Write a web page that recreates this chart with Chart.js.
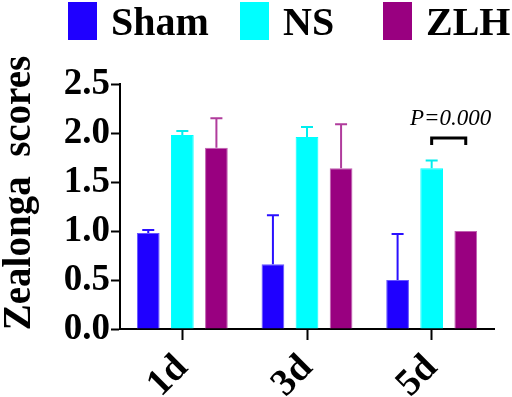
<!DOCTYPE html>
<html lang="en">
<head>
    <meta charset="UTF-8">
    <title>Zealonga scores</title>
    <script src="https://cdn.jsdelivr.net/npm/chart.js"></script>
    <style>
        body { margin: 0; background: #fff; }
        #wrap { width: 512px; height: 397px; }
    </style>
</head>
<body>
    <div id="wrap"><canvas id="myChart"></canvas></div>
    <script>
        // values
        const categories = ['1d', '3d', '5d'];
        const groupNames = ['Sham', 'NS', 'ZLH'];
        const shamMean = [0.98, 0.66, 0.50];
        const shamErr = [0.03, 0.50, 0.47];
        const nsMean = [1.98, 1.96, 1.64];
        const nsErr = [0.04, 0.10, 0.08];
        const zlhMean = [1.85, 1.64, 1.00];
        const zlhErr = [0.30, 0.45, 0.00];
        const yTicks = [0, 0.5, 1.0, 1.5, 2.0, 2.5];
        const yTitle = 'Zealonga  scores';
        const sigText = 'P=0.000';
        const sigLevel = 1.95;

        const serif = 'Liberation Serif';
        Chart.defaults.font.family = serif;

        // upper error bars only
        const errorBars = {
            id: 'errorBars',
            afterDatasetsDraw(chart) {
                const ctx = chart.ctx;
                const y = chart.scales.y;
                chart.data.datasets.forEach((ds, i) => {
                    const meta = chart.getDatasetMeta(i);
                    meta.data.forEach((bar, j) => {
                        const err = ds.errors[j];
                        if (!err) return;
                        const top = y.getPixelForValue(ds.data[j] + err);
                        ctx.save();
                        ctx.strokeStyle = ds.errorColor;
                        ctx.lineWidth = 2;
                        ctx.beginPath();
                        ctx.moveTo(bar.x, bar.y);
                        ctx.lineTo(bar.x, top);
                        ctx.moveTo(bar.x - 6, top);
                        ctx.lineTo(bar.x + 6, top);
                        ctx.stroke();
                        ctx.restore();
                    });
                });
            }
        };

        // bracket between NS and ZLH at 5d
        const sigBracket = {
            id: 'sigBracket',
            afterDraw(chart) {
                const ctx = chart.ctx;
                const y = chart.scales.y;
                const a = chart.getDatasetMeta(1).data[2];
                const b = chart.getDatasetMeta(2).data[2];
                const yy = y.getPixelForValue(sigLevel);
                ctx.save();
                ctx.strokeStyle = '#000';
                ctx.lineWidth = 3;
                ctx.beginPath();
                ctx.moveTo(a.x, yy + 7);
                ctx.lineTo(a.x, yy);
                ctx.lineTo(b.x, yy);
                ctx.lineTo(b.x, yy + 7);
                ctx.stroke();
                ctx.fillStyle = '#000';
                ctx.font = 'italic 23px "Liberation Serif"';
                ctx.textAlign = 'center';
                ctx.fillText(sigText, (a.x + b.x) / 2 + 2, yy - 13);
                ctx.restore();
            }
        };

        // legend along the top and the rotated y title
        const legendX = [68, 240, 383];
        const labelsPlugin = {
            id: 'labelsPlugin',
            afterDraw(chart) {
                const ctx = chart.ctx;
                ctx.save();
                ctx.font = 'bold 40px "Liberation Serif"';
                ctx.fillStyle = '#000';
                chart.data.datasets.forEach((ds, i) => {
                    ctx.fillStyle = ds.backgroundColor;
                    ctx.fillRect(legendX[i], 2, 29, 38);
                    ctx.fillStyle = '#000';
                    ctx.fillText(ds.label, legendX[i] + 43, 35);
                });
                ctx.translate(20, 193);
                ctx.rotate(-Math.PI / 2);
                ctx.font = 'bold 39px "Liberation Serif"';
                ctx.textAlign = 'center';
                ctx.textBaseline = 'middle';
                ctx.fillText(yTitle, 0, 0);
                ctx.restore();
            }
        };

        const ctx = document.getElementById('myChart').getContext('2d');
        new Chart(ctx, {
            type: 'bar',
            data: {
                labels: categories,
                datasets: [
                    { label: groupNames[0], data: shamMean, errors: shamErr, backgroundColor: '#1f00ff', borderColor: '#6655ff', errorColor: '#2a10ff', borderWidth: 1 },
                    { label: groupNames[1], data: nsMean, errors: nsErr, backgroundColor: '#00ffff', borderColor: '#00ffff', errorColor: '#00eeee', borderWidth: 1 },
                    { label: groupNames[2], data: zlhMean, errors: zlhErr, backgroundColor: '#990080', borderColor: '#c060b0', errorColor: '#b03c9c', borderWidth: 1 }
                ]
            },
            options: {
                responsive: true,
                maintainAspectRatio: false,
                animation: false,
                layout: { padding: { top: 84, right: 18, left: 0, bottom: 0 } },
                datasets: { bar: { categoryPercentage: 0.82, barPercentage: 0.667 } },
                plugins: {
                    legend: { display: false },
                    tooltip: { enabled: false }
                },
                scales: {
                    x: {
                        grid: { display: true, drawOnChartArea: false, offset: false, tickLength: 11, tickWidth: 2, tickColor: '#000' },
                        border: { color: '#000', width: 2 },
                        ticks: {
                            color: '#000',
                            font: { family: serif, size: 38, weight: 'bold' },
                            maxRotation: 45, minRotation: 45, padding: 6
                        },
                        afterFit(scale) { scale.height = 68; }
                    },
                    y: {
                        min: 0, max: 2.5,
                        afterBuildTicks(scale) { scale.ticks = yTicks.map(v => ({ value: v })); },
                        grid: { display: true, drawOnChartArea: false, tickLength: 9, tickWidth: 2, tickColor: '#000' },
                        border: { color: '#000', width: 2 },
                        ticks: {
                            color: '#000',
                            padding: 1,
                            font: { family: serif, size: 37, weight: 'bold' },
                            callback: v => Number(v).toFixed(1)
                        },
                        afterFit(scale) { scale.width = 120; }
                    }
                }
            },
            plugins: [errorBars, sigBracket, labelsPlugin]
        });
    </script>
</body>
</html>
